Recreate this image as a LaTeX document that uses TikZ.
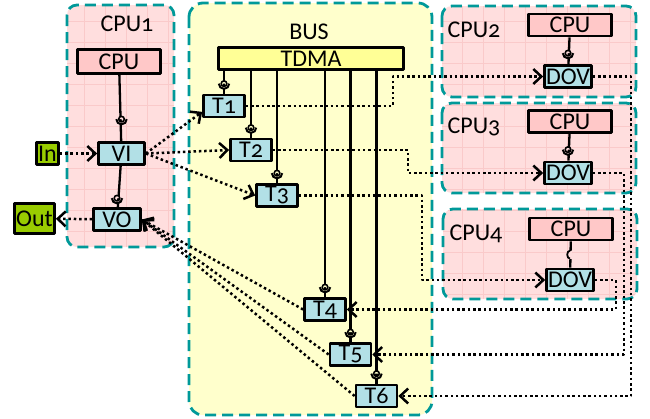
\documentclass[tikz,border=0pt]{standalone}
\usepackage{fontspec}
\setmainfont{Carlito}[Numbers=OldStyle]
\usetikzlibrary{arrows.meta,positioning}
\definecolor{cpubg}{RGB}{255,222,222}
\definecolor{cpugrid}{RGB}{250,202,202}
\definecolor{busbg}{RGB}{255,255,204}
\definecolor{dashteal}{RGB}{0,153,153}
\definecolor{cpufill}{RGB}{255,200,200}
\definecolor{tdmafill}{RGB}{255,255,150}
\definecolor{taskfill}{RGB}{178,224,230}
\definecolor{iofill}{RGB}{153,204,0}
\tikzset{
	sock/.pic={
		\fill[#1] (0,0) circle (2.8) (-4.5,0) arc (180:0:4.5) -- cycle;
		\draw[line width=1.6pt] (0,0) circle (2.8);
		\draw[line width=2pt] (-5.2,0) arc (180:0:5.2);
	},
	hook/.pic={
		\fill[#1] (-1.6,-4) rectangle (1.6,4);
		\draw[line width=1.8pt] (0,-4) arc (270:90:2.8 and 4);
	}
}
\begin{document}
\begin{tikzpicture}[x=1pt,y=-1pt,line join=round,font=\fontsize{24}{26}\selectfont,
	box/.style={draw,line width=2.7pt,inner sep=0pt,minimum height=22pt},
	cpubox/.style={box,fill=cpufill,minimum width=83pt},
	task/.style={box,fill=taskfill,minimum width=41pt},
	iobox/.style={box,fill=iofill},
	cpuframe/.style={draw=dashteal,line width=2.8pt,dash pattern=on 11pt off 6pt},
	wire/.style={line width=2.3pt},
	flow/.style={line width=2.5pt,dash pattern=on 2.5pt off 2.8pt,-{Straight Barb[length=8pt,width=15pt]}}]
	\useasboundingbox (0,0) rectangle (650,418);
	% frames
	\foreach \xa/\ya/\xb/\yb in {67/5/174/247,442/6/636/97,442/103/636/193,443/209/637/299}{
		\fill[cpubg,rounded corners=10pt] (\xa,\ya) rectangle (\xb,\yb);
		\begin{scope}
			\clip[rounded corners=10pt] (\xa,\ya) rectangle (\xb,\yb);
			\draw[cpugrid,line width=0.7pt,step=21pt] (\xa,\yb) grid (\xb,\ya);
		\end{scope}
		\draw[cpuframe,rounded corners=10pt] (\xa,\ya) rectangle (\xb,\yb);
	}
	\fill[busbg,rounded corners=14pt] (189,3) rectangle (432,415);
	\draw[cpuframe,rounded corners=14pt] (189,3) rectangle (432,415);
	% titles
	\node (cpu1t) at (127,24) {CPU1};
	\node (bust) at (309,32) {BUS};
	\node (cpu2t) at (474,30) {CPU2};
	\node (cpu3t) at (474,127) {CPU3};
	\node (cpu4t) at (476,234) {CPU4};
	% CPU1
	\node[cpubox,minimum height=24pt] (cpu1) at (119,61.5) {CPU};
	\node[task,minimum width=46pt] (vi) at (121.5,153.5) {VI};
	\node[task,minimum width=47pt] (vo) at (117,219.5) {VO};
	\node[iobox,minimum width=22pt] (in) at (47.5,153.5) {In};
	\node[iobox,minimum width=40pt,minimum height=30pt] (out) at (34.5,218.5) {Out};
	% bus
	\node[box,fill=tdmafill,minimum width=185pt] (tdma) at (311,58.5) {TDMA};
	\node[task] (t1) at (224,106) {T1};
	\node[task] (t2) at (251,150) {T2};
	\node[task] (t3) at (277,195.5) {T3};
	\node[task] (t4) at (325,309.5) {T4};
	\node[task] (t5) at (350.5,354.5) {T5};
	\node[task] (t6) at (376.5,396) {T6};
	% other cpus
	\node[cpubox] (cpu2) at (570,25) {CPU};
	\node[task,minimum width=47pt] (dov2) at (568,76.5) {DOV};
	\node[cpubox] (cpu3) at (570,121.5) {CPU};
	\node[task,minimum width=47pt] (dov3) at (568,173) {DOV};
	\node[cpubox] (cpu4) at (571,229) {CPU};
	\node[task,minimum width=47pt] (dov4) at (570,280) {DOV};
	% wires
	\draw[wire] (cpu1) -- (vi);
	\draw[wire] (vi) -- (vo);
	\draw[wire] (cpu2) -- (dov2);
	\draw[wire] (cpu3) -- (dov3);
	\draw[wire] (cpu4) -- (dov4);
	\foreach \t in {t1,t2,t3,t4,t5,t6}{
		\draw[wire] (tdma.south -| \t) -- (\t);
		\pic at ([yshift=10pt]\t.north) {sock=busbg};
	}
	\pic at ([yshift=22pt]vi.north) {sock=cpubg};
	\pic at ([yshift=9pt]vo.north) {sock=cpubg};
	\pic at ([yshift=11pt]dov2.north) {sock=cpubg};
	\pic at ([yshift=11pt]dov3.north) {sock=cpubg};
	\pic at ([yshift=13pt]dov4.north) {hook=cpubg};
	% flows
	\draw[flow] (in) -- (vi);
	\draw[flow] (vo) -- (out);
	\draw[flow] (vi.east) -- (t1.195);
	\draw[flow] (vi.east) -- (t2.west);
	\draw[flow] (vi.east) -- (t3.west);
	\draw[flow] (t4.west) -- (vo.east);
	\draw[flow] (t5.west) -- (vo.east);
	\draw[flow] (t6.west) -- (vo.east);
	\draw[flow] (t1.east) -- ++(147,0) |- (dov2.west);
	\draw[flow] (t2.east) -- ++(135,0) |- (dov3.west);
	\draw[flow] (t3.east) -- ++(123,0) |- (dov4.west);
	\draw[flow] (dov4.east) -- ++(21,0) |- (t4.east);
	\draw[flow] (dov3.east) -- ++(31,0) |- (t5.east);
	\draw[flow] (dov2.east) -- ++(38,0) |- (t6.east);
\end{tikzpicture}
\end{document}
